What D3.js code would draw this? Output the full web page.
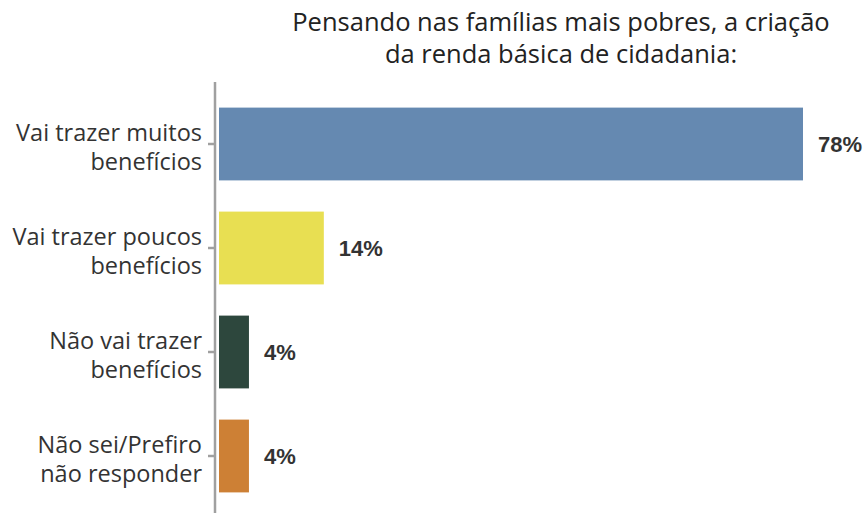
<!DOCTYPE html>
<html>
<head>
<meta charset="utf-8">
<script src="https://cdn.jsdelivr.net/npm/d3@7"></script>
<style>
  body { margin: 0; background: #fff; }
</style>
</head>
<body>
<div id="chart"></div>
<script>
// Chart data.
const categories = [
  ["Vai trazer muitos", "benefícios"],
  ["Vai trazer poucos", "benefícios"],
  ["Não vai trazer", "benefícios"],
  ["Não sei/Prefiro", "não responder"]
];
const values = [78, 14, 4, 4];
const colors = ["#6589b1", "#e8df52", "#2d473d", "#cd8035"];
const titleLines = ["Pensando nas famílias mais pobres, a criação", "da renda básica de cidadania:"];

const width = 868;
const height = 513;
const margin = { top: 92, right: 60, bottom: 5, left: 219 };

const svg = d3.select("#chart")
  .append("svg")
  .attr("width", width)
  .attr("height", height);

const keys = categories.map(function(d, i) { return i; });

const x = d3.scaleLinear()
  .domain([0, 78])
  .range([margin.left, 803]);

const y = d3.scaleBand()
  .domain(keys)
  .range([margin.top, 508])
  .paddingInner(0.3)
  .paddingOuter(0.15);

// Title.
svg.append("g")
  .selectAll("text")
  .data(titleLines)
  .enter()
  .append("text")
  .attr("x", 561)
  .attr("y", function(d, i) { return 31 + i * 32; })
  .attr("text-anchor", "middle")
  .style("font-family", "'Open Sans', sans-serif")
  .style("font-size", "25.5px")
  .style("fill", "#222")
  .text(function(d) { return d; });

// Bars.
svg.selectAll("rect.bar")
  .data(values)
  .enter()
  .append("rect")
  .attr("class", "bar")
  .attr("x", x(0))
  .attr("y", function(d, i) { return y(i); })
  .attr("width", function(d) { return x(d) - x(0); })
  .attr("height", y.bandwidth())
  .attr("fill", function(d, i) { return colors[i]; });

// Value labels.
svg.selectAll("text.value")
  .data(values)
  .enter()
  .append("text")
  .attr("class", "value")
  .attr("x", function(d) { return x(d) + 15; })
  .attr("y", function(d, i) { return y(i) + y.bandwidth() / 2 + 8; })
  .style("font-family", "'Liberation Sans', Arial, sans-serif")
  .style("font-weight", "bold")
  .style("font-size", "22px")
  .style("fill", "#333")
  .text(function(d) { return d + "%"; });

// Y axis with ticks, custom two-line labels.
const axis = svg.append("g")
  .attr("transform", "translate(215,0)")
  .call(d3.axisLeft(y).tickSize(7).tickFormat(""));

axis.select(".domain")
  .attr("d", "M0,82V513")
  .attr("stroke", "#a0a0a0")
  .attr("stroke-width", 2.5);

axis.selectAll(".tick line")
  .attr("stroke", "#a0a0a0")
  .attr("stroke-width", 2.5);

const labels = svg.append("g")
  .selectAll("text")
  .data(categories)
  .enter()
  .append("text")
  .attr("text-anchor", "end")
  .style("font-family", "'Open Sans', sans-serif")
  .style("font-size", "23.5px")
  .style("fill", "#333");

labels.selectAll("tspan")
  .data(function(d, i) { return d.map(function(t, j) { return { t: t, j: j, i: i }; }); })
  .enter()
  .append("tspan")
  .attr("x", 202)
  .attr("y", function(d) { return y(d.i) + y.bandwidth() / 2 - 3 + d.j * 29; })
  .text(function(d) { return d.t; });
</script>
</body>
</html>
